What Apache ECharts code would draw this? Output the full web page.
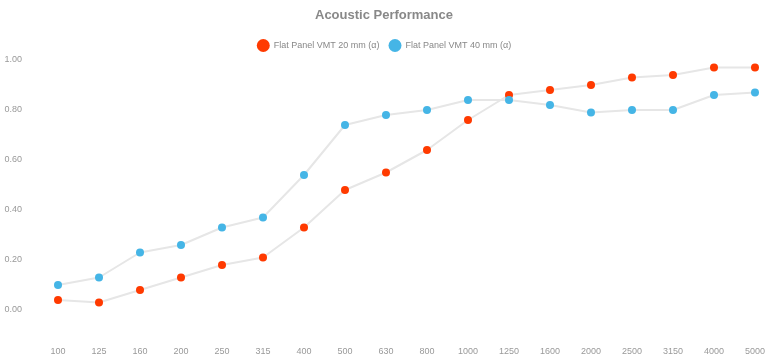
<!DOCTYPE html>
<html><head><meta charset="utf-8">
<script src="https://cdn.jsdelivr.net/npm/echarts@6/dist/echarts.min.js"></script>
<style>html,body{margin:0;padding:0;background:#fff}#c{width:768px;height:362px}</style>
</head><body><div id="c"></div>
<script>
const categories = ['100','125','160','200','250','315','400','500','630','800','1000','1250','1600','2000','2500','3150','4000','5000'];
const vmt20 = [0.04,0.03,0.08,0.13,0.18,0.21,0.33,0.48,0.55,0.64,0.76,0.86,0.88,0.90,0.93,0.94,0.97,0.97];
const vmt40 = [0.10,0.13,0.23,0.26,0.33,0.37,0.54,0.74,0.78,0.80,0.84,0.84,0.82,0.79,0.80,0.80,0.86,0.87];
const yTicks = [0,0.2,0.4,0.6,0.8,1.0];
const seriesNames = ['Flat Panel VMT 20 mm (α)','Flat Panel VMT 40 mm (α)'];
const colors = ['#ff3a00','#45b5e6'];

const chart = echarts.init(document.getElementById('c'), null, {renderer:'canvas'});
const font = 'Liberation Sans, Arial, sans-serif';
chart.setOption({
  animation:false,
  textStyle:{fontFamily:font},
  title:{text:'Acoustic Performance',left:'center',top:4,textStyle:{fontSize:13,fontWeight:'bold',color:'#888',fontFamily:font}},
  legend:{top:34,left:'center',icon:'circle',itemWidth:13,itemHeight:13,itemGap:9,
    textStyle:{fontSize:9,color:'#888',fontFamily:font,padding:[0,0,0,-1]},data:seriesNames},
  grid:{left:58,right:12,top:60,bottom:27,containLabel:false},
  xAxis:{type:'category',data:categories,boundaryGap:false,
    axisLine:{show:false},axisTick:{show:false},splitLine:{show:false},
    axisLabel:{color:'#999',fontSize:9,margin:12,interval:0}},
  yAxis:{type:'value',min:-0.1,max:1.0,
    axisLine:{show:false},axisTick:{show:false},splitLine:{show:false},
    axisLabel:{color:'#999',fontSize:9,margin:36,customValues:yTicks,formatter:v=>v.toFixed(2)}},
  series:[
    {name:seriesNames[0],type:'line',data:vmt20,symbol:'circle',symbolSize:8,
      itemStyle:{color:colors[0]},lineStyle:{color:'#e6e6e6',width:2}},
    {name:seriesNames[1],type:'line',data:vmt40,symbol:'circle',symbolSize:8,
      itemStyle:{color:colors[1]},lineStyle:{color:'#e6e6e6',width:2}}
  ]
});
</script></body></html>
